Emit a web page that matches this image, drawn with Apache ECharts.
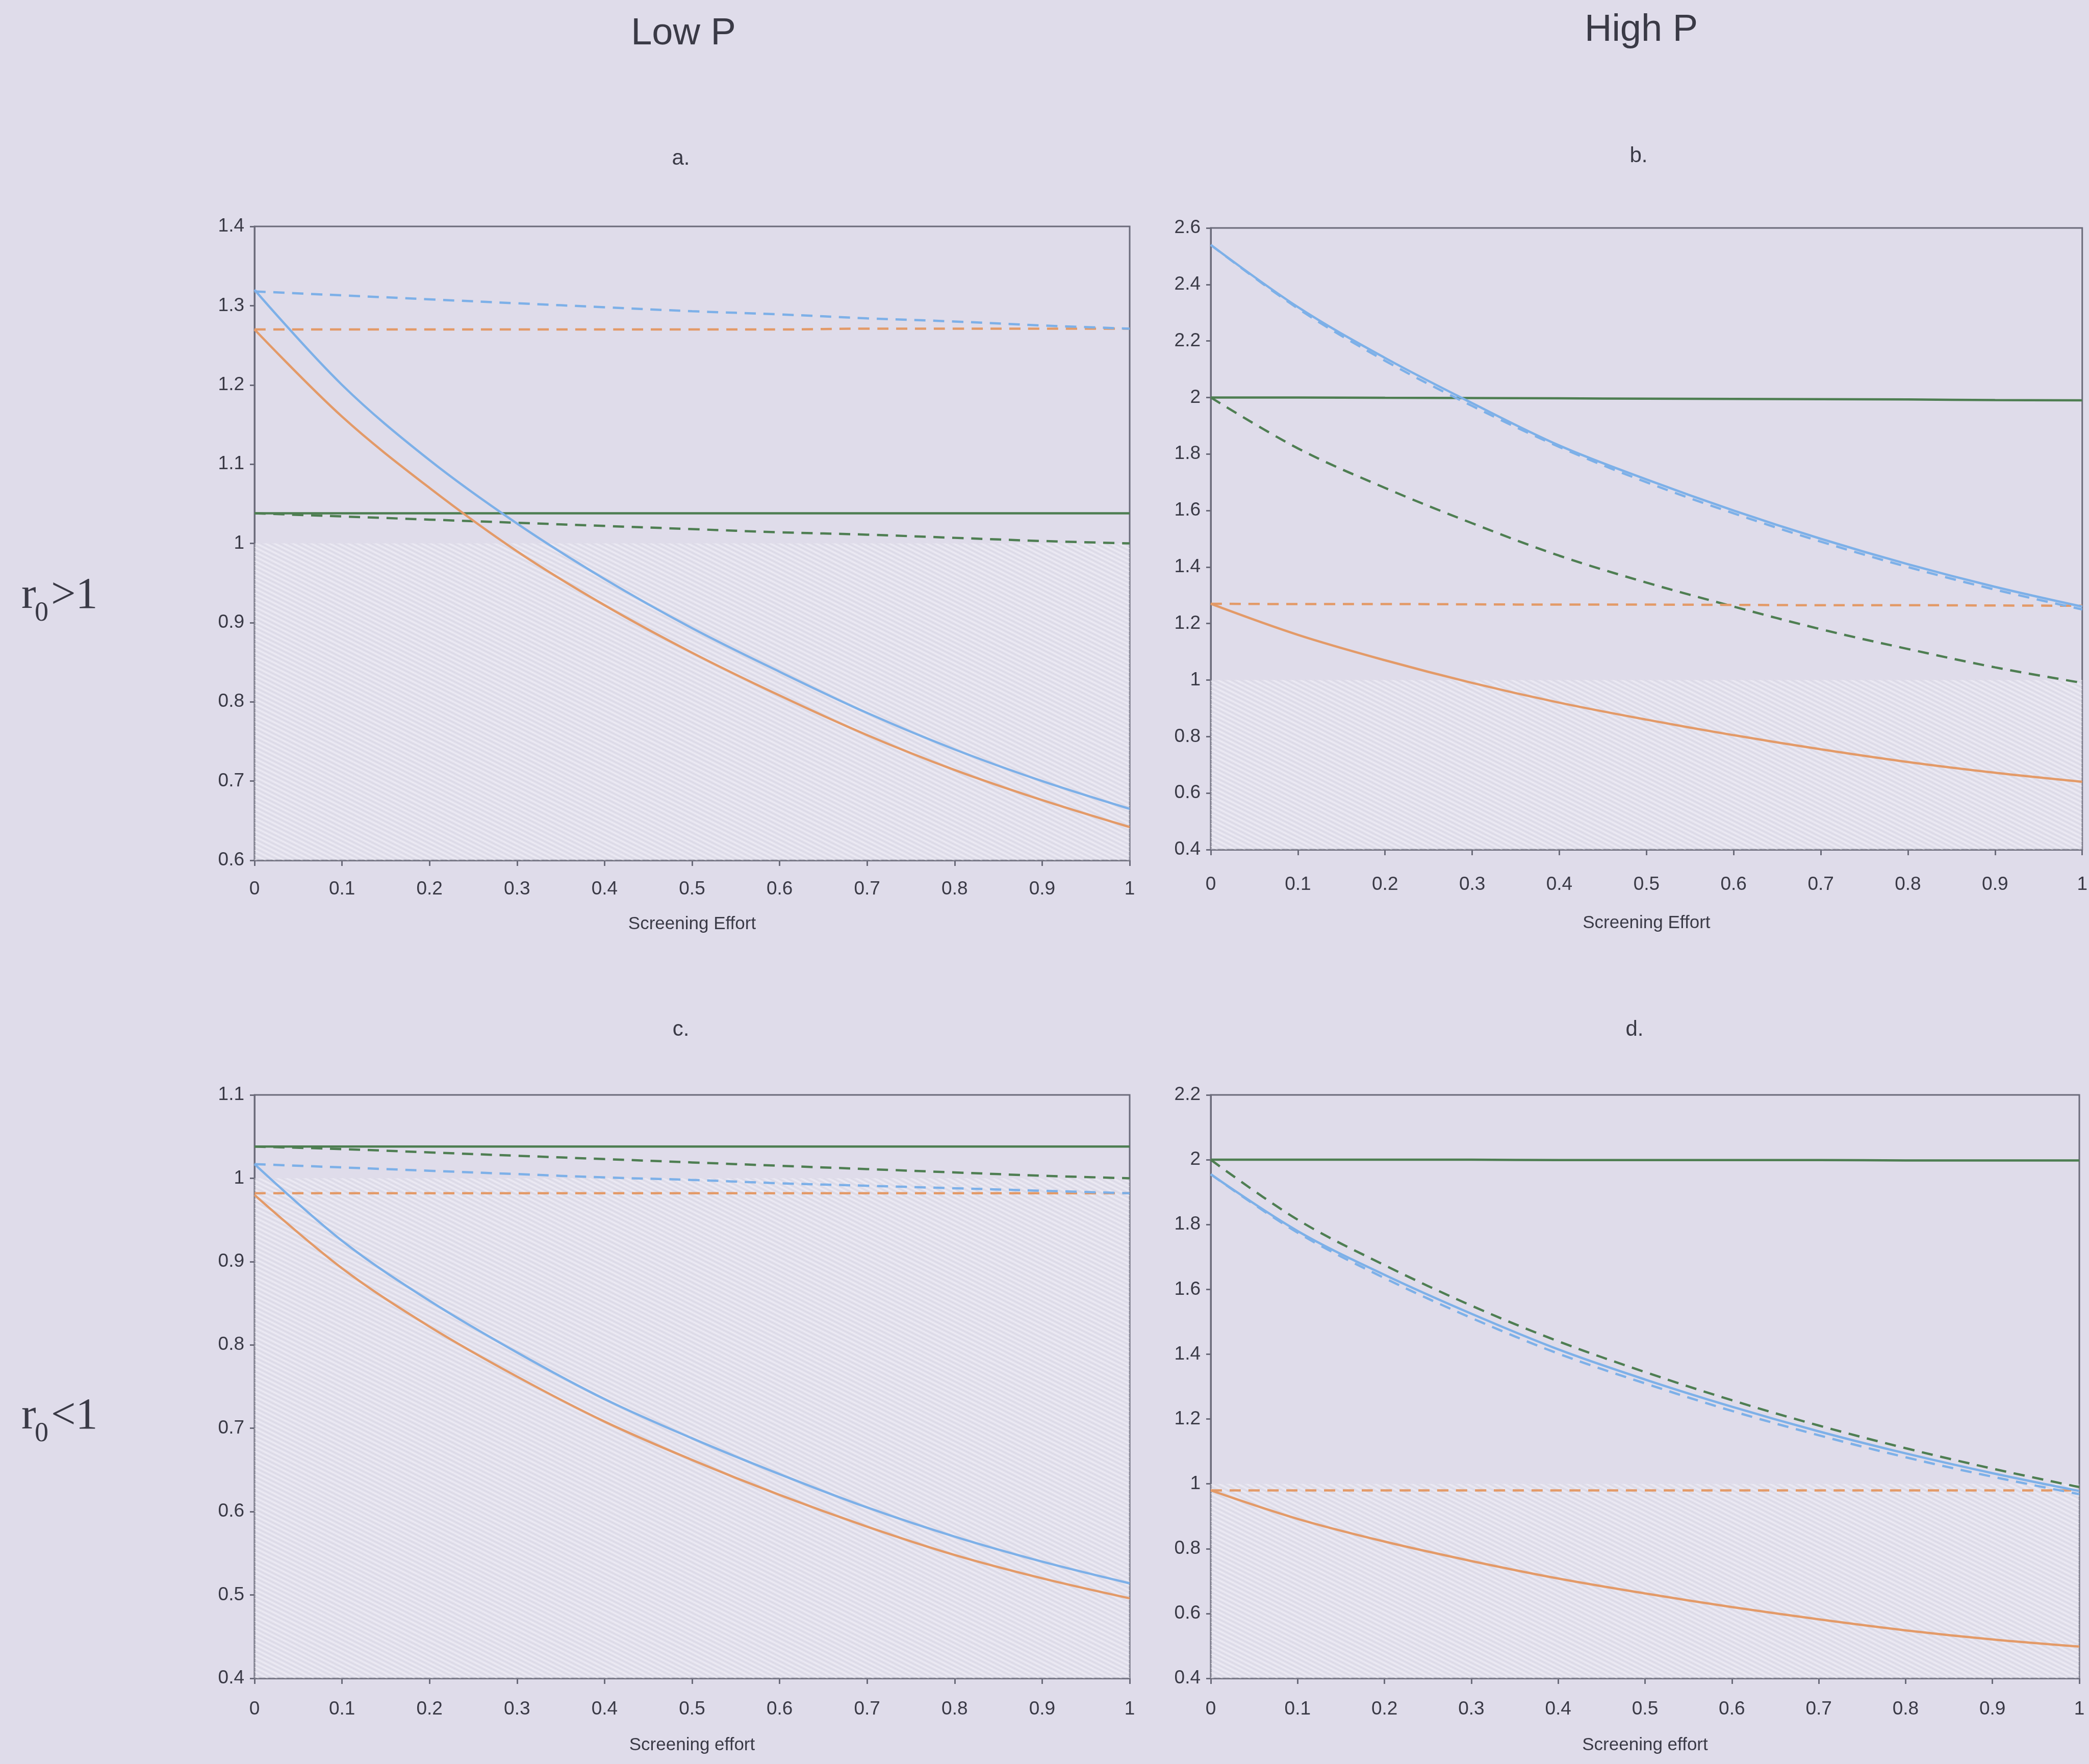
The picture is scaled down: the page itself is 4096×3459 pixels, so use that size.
<!DOCTYPE html>
<html>
<head>
<meta charset="utf-8">
<script src="https://cdn.jsdelivr.net/npm/echarts@6/dist/echarts.min.js"></script>
<style>
  html, body { margin: 0; padding: 0; background: #DFDCEA; }
  #chart { width: 4096px; height: 3459px; }
</style>
</head>
<body>
<div id="chart"></div>
<script>
// Screening effort (x) sample points shared by every panel
const effort = [0, 0.1, 0.2, 0.3, 0.4, 0.5, 0.6, 0.7, 0.8, 0.9, 1];

// Panel a: r0 > 1, low P
const aBlueSolid    = [1.320, 1.200, 1.105, 1.025, 0.955, 0.893, 0.838, 0.786, 0.740, 0.700, 0.665];
const aBlueDashed   = [1.318, 1.313, 1.308, 1.303, 1.298, 1.293, 1.289, 1.284, 1.280, 1.275, 1.271];
const aOrangeSolid  = [1.270, 1.160, 1.070, 0.990, 0.922, 0.862, 0.808, 0.758, 0.714, 0.676, 0.642];
const aOrangeDashed = [1.270, 1.270, 1.270, 1.270, 1.270, 1.270, 1.270, 1.271, 1.271, 1.271, 1.271];
const aGreenSolid   = [1.038, 1.038, 1.038, 1.038, 1.038, 1.038, 1.038, 1.038, 1.038, 1.038, 1.038];
const aGreenDashed  = [1.038, 1.034, 1.030, 1.026, 1.022, 1.018, 1.014, 1.011, 1.007, 1.003, 1.000];

// Panel b: r0 > 1, high P
const bBlueSolid    = [2.540, 2.320, 2.140, 1.980, 1.830, 1.710, 1.600, 1.500, 1.410, 1.330, 1.260];
const bBlueDashed   = [2.540, 2.315, 2.130, 1.970, 1.825, 1.700, 1.590, 1.490, 1.400, 1.320, 1.250];
const bOrangeSolid  = [1.270, 1.160, 1.070, 0.990, 0.920, 0.860, 0.805, 0.755, 0.710, 0.672, 0.640];
const bOrangeDashed = [1.270, 1.269, 1.269, 1.268, 1.267, 1.267, 1.266, 1.265, 1.265, 1.264, 1.263];
const bGreenSolid   = [2.000, 2.000, 1.999, 1.998, 1.997, 1.996, 1.995, 1.994, 1.993, 1.991, 1.990];
const bGreenDashed  = [2.000, 1.820, 1.680, 1.555, 1.440, 1.345, 1.260, 1.180, 1.110, 1.045, 0.990];

// Panel c: r0 < 1, low P
const cBlueSolid    = [1.017, 0.925, 0.853, 0.791, 0.735, 0.688, 0.645, 0.605, 0.570, 0.540, 0.514];
const cBlueDashed   = [1.017, 1.013, 1.009, 1.005, 1.001, 0.998, 0.994, 0.991, 0.988, 0.985, 0.982];
const cOrangeSolid  = [0.980, 0.892, 0.822, 0.762, 0.708, 0.662, 0.620, 0.582, 0.548, 0.520, 0.496];
const cOrangeDashed = [0.982, 0.982, 0.982, 0.982, 0.982, 0.982, 0.982, 0.982, 0.982, 0.982, 0.982];
const cGreenSolid   = [1.038, 1.038, 1.038, 1.038, 1.038, 1.038, 1.038, 1.038, 1.038, 1.038, 1.038];
const cGreenDashed  = [1.038, 1.035, 1.031, 1.027, 1.023, 1.019, 1.015, 1.011, 1.007, 1.003, 1.000];

// Panel d: r0 < 1, high P
const dBlueSolid    = [1.955, 1.780, 1.645, 1.525, 1.415, 1.322, 1.238, 1.162, 1.094, 1.033, 0.978];
const dBlueDashed   = [1.955, 1.775, 1.635, 1.512, 1.402, 1.310, 1.225, 1.150, 1.082, 1.022, 0.968];
const dOrangeSolid  = [0.980, 0.892, 0.822, 0.762, 0.708, 0.662, 0.620, 0.582, 0.548, 0.520, 0.498];
const dOrangeDashed = [0.980, 0.980, 0.980, 0.980, 0.980, 0.980, 0.980, 0.980, 0.980, 0.980, 0.980];
const dGreenSolid   = [2.000, 2.000, 2.000, 2.000, 1.999, 1.999, 1.999, 1.999, 1.998, 1.998, 1.998];
const dGreenDashed  = [2.000, 1.815, 1.675, 1.550, 1.440, 1.345, 1.258, 1.180, 1.110, 1.047, 0.990];

// Axis ranges and labels
const yRanges = [
  { min: 0.6, max: 1.4, interval: 0.1 },
  { min: 0.4, max: 2.6, interval: 0.2 },
  { min: 0.4, max: 1.1, interval: 0.1 },
  { min: 0.4, max: 2.2, interval: 0.2 }
];
const xNames = ['Screening Effort', 'Screening Effort', 'Screening effort', 'Screening effort'];
const threshold = 1;   // hatched region lies below r = 1

const panels = [
  { blueS: aBlueSolid, blueD: aBlueDashed, orS: aOrangeSolid, orD: aOrangeDashed, grS: aGreenSolid, grD: aGreenDashed },
  { blueS: bBlueSolid, blueD: bBlueDashed, orS: bOrangeSolid, orD: bOrangeDashed, grS: bGreenSolid, grD: bGreenDashed },
  { blueS: cBlueSolid, blueD: cBlueDashed, orS: cOrangeSolid, orD: cOrangeDashed, grS: cGreenSolid, grD: cGreenDashed },
  { blueS: dBlueSolid, blueD: dBlueDashed, orS: dOrangeSolid, orD: dOrangeDashed, grS: dGreenSolid, grD: dGreenDashed }
];

// Layout of the four plot areas
const grids = [
  { left: 499,  top: 444,  width: 1716, height: 1243 },
  { left: 2374, top: 447,  width: 1709, height: 1219 },
  { left: 499,  top: 2147, width: 1716, height: 1144 },
  { left: 2374, top: 2147, width: 1703, height: 1144 }
];
const xLabelMargin = [38, 50, 42, 42];
const xNameGap = [108, 127, 114, 114];

const COLORS = { blue: '#7DB0E8', orange: '#E39A68', green: '#4E7E52' };
const AXIS = '#6B6B7A';
const TEXT = '#3A3A46';
const SANS_NARROW = '"Liberation Sans Narrow", "Liberation Sans", Arial, sans-serif';
const SANS = '"Liberation Sans", Arial, sans-serif';
const SERIF = '"Liberation Serif", "Times New Roman", serif';

// Faint diagonal hatch tile for the sub-threshold region
function hatchTile() {
  const w = 18, h = 9;
  const c = document.createElement('canvas');
  c.width = w; c.height = h;
  const g = c.getContext('2d');
  g.fillStyle = 'rgba(236,234,243,0.35)';
  g.fillRect(0, 0, w, h);
  g.lineWidth = 1.6;
  g.strokeStyle = 'rgba(196,192,210,0.30)';
  for (const dx of [-w, 0, w]) {
    g.beginPath();
    g.moveTo(dx - w, -h);
    g.lineTo(dx + 2 * w, 2 * h);
    g.stroke();
  }
  g.strokeStyle = 'rgba(247,246,252,0.55)';
  for (const dx of [-w, 0, w]) {
    g.beginPath();
    g.moveTo(dx - w + w / 2, -h);
    g.lineTo(dx + 2 * w + w / 2, 2 * h);
    g.stroke();
  }
  return c;
}
const hatch = { image: hatchTile(), repeat: 'repeat' };

const pairs = ys => effort.map((x, i) => [x, ys[i]]);

const option = {
  backgroundColor: '#DFDCEA',
  animation: false,
  grid: grids.map(g => Object.assign({
    show: true, borderColor: AXIS, borderWidth: 3, backgroundColor: 'transparent', containLabel: false
  }, g)),
  xAxis: grids.map((g, i) => ({
    type: 'value', gridIndex: i, min: 0, max: 1, interval: 0.1,
    name: xNames[i], nameLocation: 'middle', nameGap: xNameGap[i],
    nameTextStyle: { fontFamily: SANS_NARROW, fontSize: 35, color: TEXT },
    axisLine: { show: true, onZero: false, lineStyle: { color: AXIS, width: 3 } },
    axisTick: { show: true, length: 11, lineStyle: { color: AXIS, width: 3 } },
    axisLabel: { fontFamily: SANS_NARROW, fontSize: 37, color: TEXT, margin: xLabelMargin[i] },
    splitLine: { show: false }
  })),
  yAxis: grids.map((g, i) => ({
    type: 'value', gridIndex: i,
    min: yRanges[i].min, max: yRanges[i].max, interval: yRanges[i].interval,
    axisLine: { show: true, onZero: false, lineStyle: { color: AXIS, width: 3 } },
    axisTick: { show: true, length: 9, lineStyle: { color: AXIS, width: 3 } },
    axisLabel: { fontFamily: SANS_NARROW, fontSize: 37, color: TEXT, margin: 20 },
    splitLine: { show: false }
  })),
  series: [],
  graphic: []
};

panels.forEach((p, i) => {
  const base = { type: 'line', xAxisIndex: i, yAxisIndex: i, showSymbol: false, symbol: 'none', smooth: 0.35, silent: true };
  const solid = (c) => ({ color: c, width: 4.5, type: 'solid' });
  const dashed = (c) => ({ color: c, width: 4.5, type: [22, 15] });
  option.series.push(
    Object.assign({}, base, {
      name: 'green solid ' + i, data: pairs(p.grS), lineStyle: solid(COLORS.green), z: 3,
      markArea: {
        silent: true,
        itemStyle: { color: hatch, borderWidth: 0 },
        data: [[{ coord: [0, yRanges[i].min] }, { coord: [1, threshold] }]]
      }
    }),
    Object.assign({}, base, { name: 'green dashed ' + i, data: pairs(p.grD), lineStyle: dashed(COLORS.green), z: 3 }),
    Object.assign({}, base, { name: 'orange dashed ' + i, data: pairs(p.orD), lineStyle: dashed(COLORS.orange), z: 4 }),
    Object.assign({}, base, { name: 'blue dashed ' + i, data: pairs(p.blueD), lineStyle: dashed(COLORS.blue), z: 5 }),
    Object.assign({}, base, { name: 'orange solid ' + i, data: pairs(p.orS), lineStyle: solid(COLORS.orange), z: 4 }),
    Object.assign({}, base, { name: 'blue solid ' + i, data: pairs(p.blueS), lineStyle: solid(COLORS.blue), z: 5 })
  );
});

// Headings, panel letters and row labels
function label(text, x, y, size, family, align) {
  return {
    type: 'text', x: x, y: y, silent: true,
    style: {
      text: text, fill: TEXT, fontSize: size, fontFamily: family,
      align: align || 'center', textAlign: align || 'center',
      verticalAlign: 'middle', textVerticalAlign: 'middle'
    }
  };
}
option.graphic.push(
  label('Low P', 1340, 67, 74, SANS),
  label('High P', 3218, 60, 74, SANS),
  label('a.', 1335, 311, 42, SANS),
  label('b.', 3213, 306, 42, SANS),
  label('c.', 1335, 2019, 42, SANS),
  label('d.', 3205, 2019, 42, SANS),
  // r0 > 1
  label('r', 42, 1169, 86, SERIF, 'left'),
  label('0', 68, 1203, 54, SERIF, 'left'),
  label('>1', 100, 1169, 86, SERIF, 'left'),
  // r0 < 1
  label('r', 42, 2778, 86, SERIF, 'left'),
  label('0', 68, 2812, 54, SERIF, 'left'),
  label('<1', 100, 2778, 86, SERIF, 'left')
);

const chart = echarts.init(document.getElementById('chart'), null, { renderer: 'canvas' });
chart.setOption(option);
</script>
</body>
</html>
